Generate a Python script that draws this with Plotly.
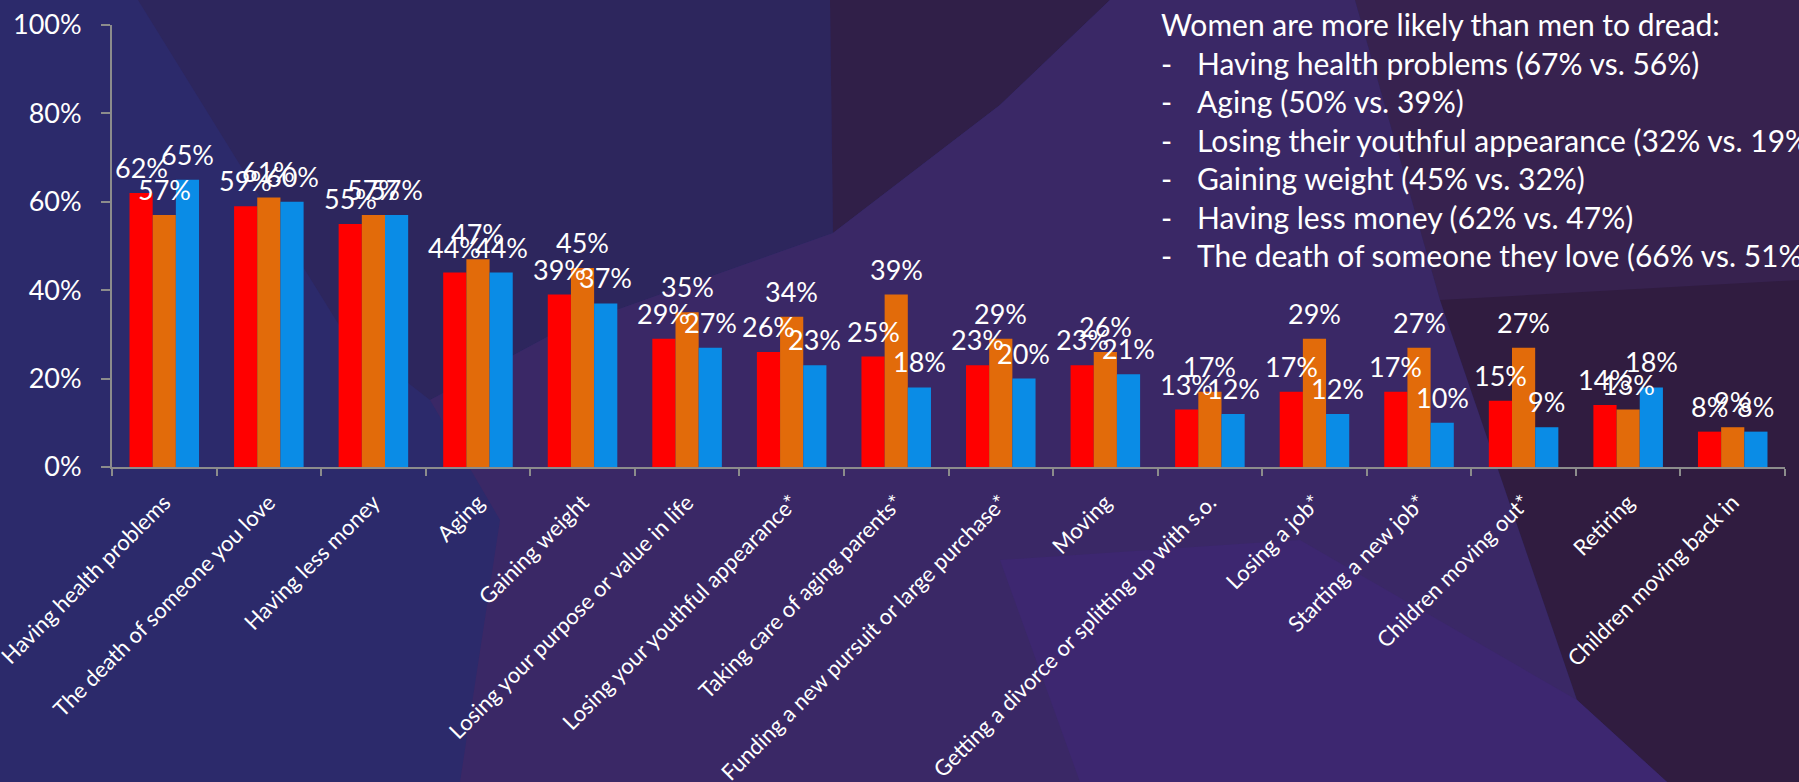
import plotly.graph_objects as go

# ---- data -------------------------------------------------------------
categories = [
    "Having health problems",
    "The death of someone you love",
    "Having less money",
    "Aging",
    "Gaining weight",
    "Losing your purpose or value in life",
    "Losing your youthful appearance*",
    "Taking care of aging parents*",
    "Funding a new pursuit or large purchase*",
    "Moving",
    "Getting a divorce or splitting up with s.o.",
    "Losing a job*",
    "Starting a new job*",
    "Children moving out*",
    "Retiring",
    "Children moving back in",
]
group1_pct = [62, 59, 55, 44, 39, 29, 26, 25, 23, 23, 13, 17, 17, 15, 14, 8]
group2_pct = [57, 61, 57, 47, 45, 35, 34, 39, 29, 26, 17, 29, 27, 27, 13, 9]
group3_pct = [65, 60, 57, 44, 37, 27, 23, 18, 20, 21, 12, 12, 10, 9, 18, 8]

y_ticks = [0, 20, 40, 60, 80, 100]
y_tick_labels = ["0%", "20%", "40%", "60%", "80%", "100%"]

note_title = "Women are more likely than men to dread:"
note_items = [
    "Having health problems (67% vs. 56%)",
    "Aging (50% vs. 39%)",
    "Losing their youthful appearance (32% vs. 19%)",
    "Gaining weight (45% vs. 32%)",
    "Having less money (62% vs. 47%)",
    "The death of someone they love (66% vs. 51%)",
]

# ---- page geometry (pixels) ------------------------------------------
W, H = 1799, 782
PLOT_L, PLOT_R, PLOT_T, PLOT_B = 112, 1785, 25, 467
FONT = "Lato, 'Open Sans', sans-serif"
AXIS_GREY = "#8c8c8c"
SERIES_COLOURS = ["#ff0000", "#e26b0a", "#0a8ce6"]
BAR_GAP = 0.335
BAR_STEP = (PLOT_R - PLOT_L) / len(categories) * (1 - BAR_GAP) / 3


def px_to_paper(x, y):
    return ((x - PLOT_L) / (PLOT_R - PLOT_L), (PLOT_B - y) / (PLOT_B - PLOT_T))


def poly_path(points):
    pts = [px_to_paper(x, y) for x, y in points]
    return "M " + " L ".join(f"{a:.5f},{b:.5f}" for a, b in pts) + " Z"


# faceted backdrop
backdrop = [
    ([(138, 0), (830, 0), (833, 233), (560, 330), (430, 400), (344, 333)],
     "#2d265d"),
    ([(830, 0), (1110, 0), (1000, 105), (833, 233)], "#301f48"),
    ([(430, 400), (560, 330), (833, 233), (1000, 105), (1110, 0),
      (1355, 0), (1440, 300), (1577, 700), (1667, 782), (460, 782),
      (500, 520)], "#3a2866"),
    ([(1355, 0), (1799, 0), (1799, 300), (1440, 300)], "#37224f"),
    ([(1440, 300), (1799, 280), (1799, 782), (1667, 782), (1577, 700)],
     "#301c40"),
    ([(1000, 560), (1300, 540), (1577, 700), (1667, 782), (1080, 782)],
     "#3d2770"),
]

fig = go.Figure()

for vals, colour in zip([group1_pct, group2_pct, group3_pct], SERIES_COLOURS):
    fig.add_trace(go.Bar(
        x=categories,
        y=vals,
        marker=dict(color=colour, line=dict(width=0)),
        hoverinfo="skip",
    ))

shapes = [
    dict(type="path", path=poly_path(pts), xref="paper", yref="paper",
         fillcolor=col, line=dict(width=0), layer="below")
    for pts, col in backdrop
]

annotations = []

# value labels above each bar
for k, vals in enumerate([group1_pct, group2_pct, group3_pct]):
    for cat, v in zip(categories, vals):
        annotations.append(dict(
            text=f"{v}%", x=cat, y=v, xref="x", yref="y",
            xshift=(k - 1) * BAR_STEP, yshift=7,
            xanchor="center", yanchor="bottom", showarrow=False,
            font=dict(family=FONT, size=27, color="white"),
        ))

# side note
line_y = [24, 62.5, 101, 139.5, 178, 216.5, 255]
tx, ty = px_to_paper(1159, line_y[0])
annotations.append(dict(
    text=note_title, x=tx, y=ty, xref="paper", yref="paper",
    xanchor="left", yanchor="middle", showarrow=False,
    font=dict(family=FONT, size=30, color="white"),
))
for item, yy in zip(note_items, line_y[1:]):
    dx, dy = px_to_paper(1159, yy)
    annotations.append(dict(
        text="-", x=dx, y=dy, xref="paper", yref="paper",
        xanchor="left", yanchor="middle", showarrow=False,
        font=dict(family=FONT, size=30, color="white"),
    ))
    ix, iy = px_to_paper(1195, yy)
    annotations.append(dict(
        text=item, x=ix, y=iy, xref="paper", yref="paper",
        xanchor="left", yanchor="middle", showarrow=False,
        font=dict(family=FONT, size=30, color="white"),
    ))

fig.update_layout(
    width=W,
    height=H,
    margin=dict(l=PLOT_L, r=W - PLOT_R, t=PLOT_T, b=H - PLOT_B, pad=0),
    paper_bgcolor="#2c2a6b",
    plot_bgcolor="rgba(0,0,0,0)",
    barmode="group",
    bargap=BAR_GAP,
    bargroupgap=0,
    showlegend=False,
    shapes=shapes,
    annotations=annotations,
    xaxis=dict(
        type="category",
        tickangle=-45,
        tickson="boundaries",
        ticks="outside",
        ticklen=7,
        tickwidth=2,
        tickcolor=AXIS_GREY,
        showline=True,
        linecolor=AXIS_GREY,
        linewidth=2,
        showgrid=False,
        tickfont=dict(family=FONT, size=22, color="white"),
        ticklabelstandoff=12,
        automargin=False,
    ),
    yaxis=dict(
        range=[0, 100],
        tickvals=y_ticks,
        ticktext=y_tick_labels,
        ticks="outside",
        ticklen=9,
        tickwidth=2,
        tickcolor=AXIS_GREY,
        showline=True,
        linecolor=AXIS_GREY,
        linewidth=2,
        showgrid=False,
        zeroline=False,
        tickfont=dict(family=FONT, size=27, color="white"),
        ticklabelstandoff=14,
        automargin=False,
    ),
)

fig.write_html("out.html")
